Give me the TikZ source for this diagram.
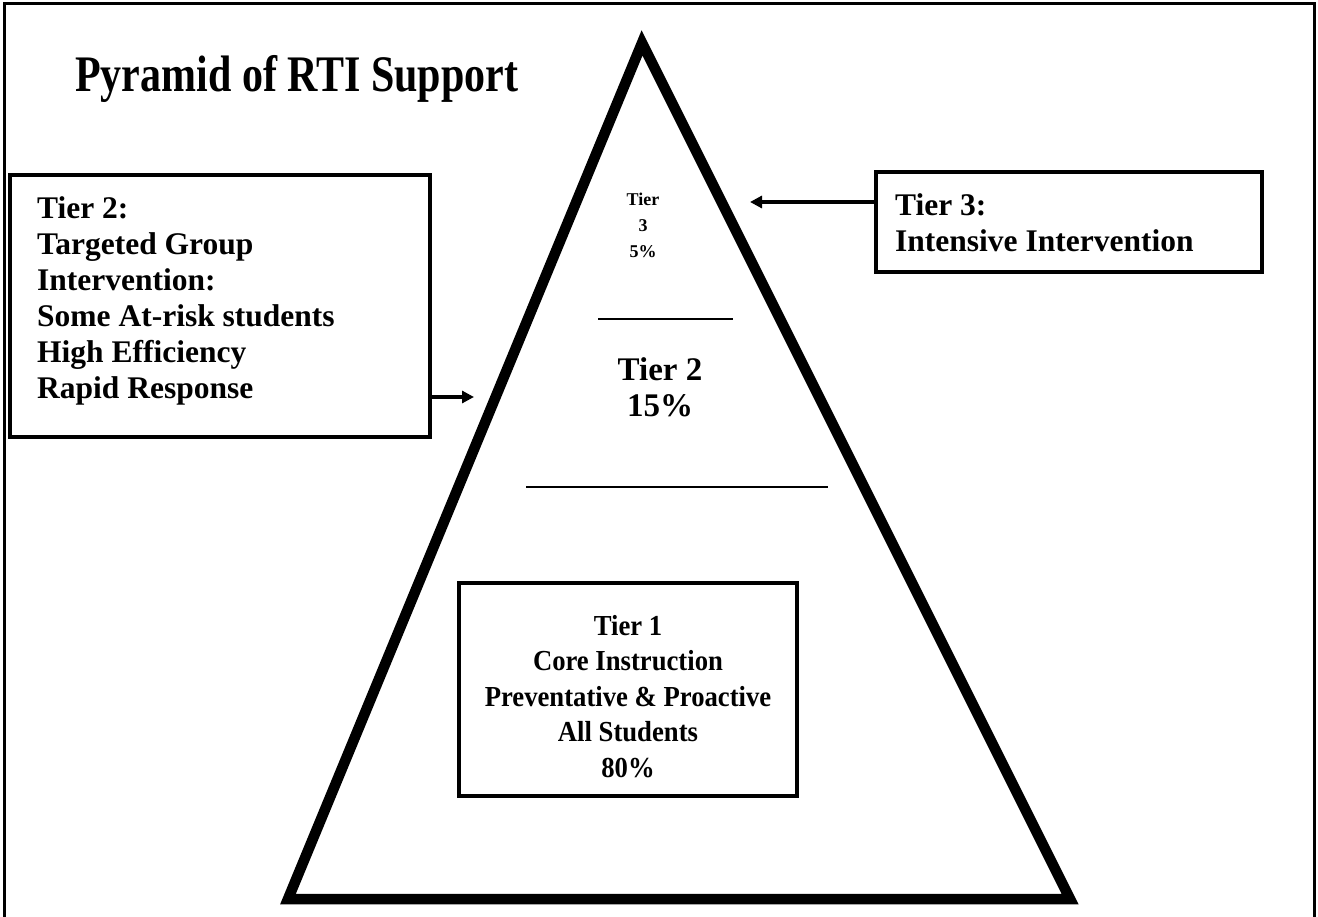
\documentclass[tikz,border=0pt]{standalone}
\usepackage{fontspec}
\setmainfont{Liberation Serif}
\usetikzlibrary{arrows.meta}
\tikzset{
  x=1pt,y=-1pt,
  frame/.style={line width=3pt},
  pyr/.style={line width=10.5pt,line join=miter},
  tierbox/.style={draw,line width=4.5pt},
  divider/.style={line width=1.5pt},
  pointer/.style={line width=3.5pt,-{Triangle[length=12pt,width=12pt]}},
  boxtext/.style={inner sep=0pt,font=\bfseries\fontsize{31.5}{36}\selectfont},
}
\begin{document}
\begin{tikzpicture}
\useasboundingbox (0,0) rectangle (1318,917);
% outer frame (bottom edge lies outside the picture)
\draw[frame] (4,917) -- (4,4) -- (1314,4) -- (1314,917);
% title
\node[inner sep=0pt,anchor=base west,font=\bfseries\fontsize{42}{50}\selectfont] (title) at (75,92) {\scalebox{1}[1.22]{Pyramid of RTI Support}};
% pyramid
\coordinate (apex) at (642,43);
\coordinate (bl) at (288,899);
\coordinate (br) at (1070,899);
\draw[pyr] (apex) -- (bl) -- (br) -- cycle;
% dividers
\coordinate (d1a) at (598,319); \coordinate (d1b) at (733,319);
\coordinate (d2a) at (526,487); \coordinate (d2b) at (828,487);
\draw[divider] (d1a) -- (d1b);
\draw[divider] (d2a) -- (d2b);
% tier 3 label inside
\node[inner sep=0pt,align=center,font=\bfseries\fontsize{18}{26}\selectfont,anchor=north] (t3) at (643,193) {Tier\\3\\5\%};
% tier 2 label inside
\node[inner sep=0pt,align=center,font=\bfseries\fontsize{33}{36}\selectfont,anchor=north] (t2) at (660,357) {Tier 2\\15\%};
% tier 1 box
\draw[tierbox] (459,583) rectangle (797,796);
\node[inner sep=0pt,align=center,anchor=north,font=\bfseries\fontsize{29}{35.5}\selectfont] (t1) at (628,615) {\scalebox{0.92}[1]{Tier 1}\\\scalebox{0.92}[1]{Core Instruction}\\\scalebox{0.92}[1]{Preventative \& Proactive}\\\scalebox{0.92}[1]{All Students}\\\scalebox{0.92}[1]{80\%}};
% left box
\draw[tierbox] (10,175) rectangle (430,437);
\coordinate (lbR) at (432,397);
\coordinate (lbT) at (474,397);
\node[boxtext,align=left,anchor=north west] (lb) at (37,196) {Tier 2:\\Targeted Group\\Intervention:\\Some At-risk students\\High Efficiency\\Rapid Response};
\draw[pointer] (lbR) -- (lbT);
% right box
\draw[tierbox] (876,172) rectangle (1262,272);
\coordinate (rbL) at (876,202);
\coordinate (rbT) at (750,202);
\node[boxtext,align=left,anchor=north west] (rb) at (895,193) {Tier 3:\\Intensive Intervention};
\draw[pointer] (rbL) -- (rbT);
\end{tikzpicture}
\end{document}
